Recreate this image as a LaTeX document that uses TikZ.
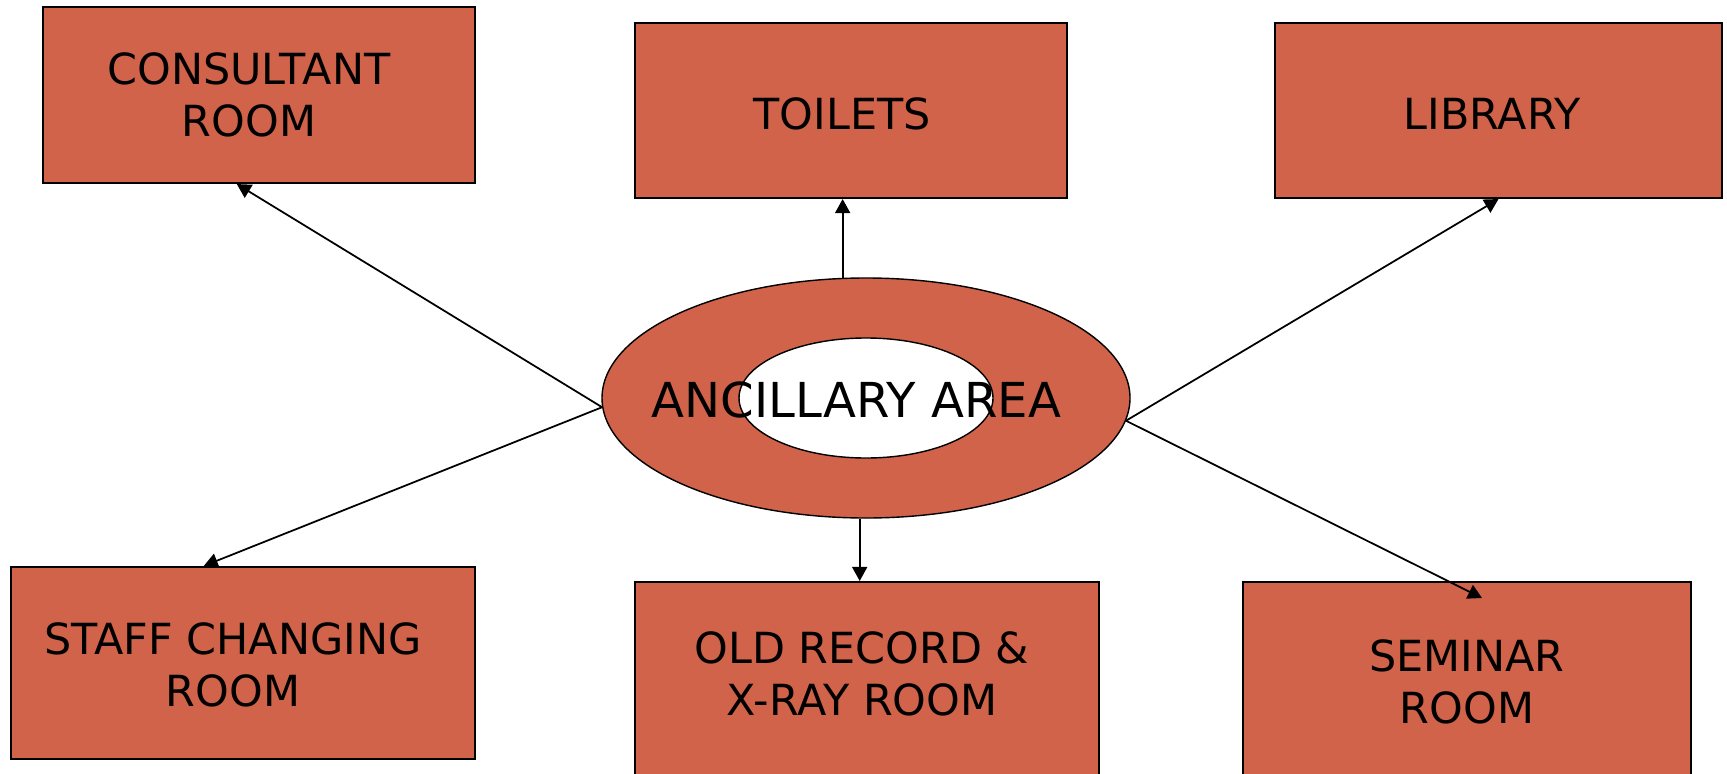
\documentclass[tikz,border=0pt]{standalone}
\usepackage{fontspec}
\setmainfont{DejaVu Sans}
\usepackage{tikz}
\definecolor{roombrown}{rgb}{0.816,0.388,0.290}
\usetikzlibrary{arrows.meta,shapes.geometric,calc}

\begin{document}
\begin{tikzpicture}[
    room/.style={draw=black,line width=0.6pt,fill=roombrown,inner sep=0pt},
    roomtext/.style={align=center,inner sep=0pt,font=\fontsize{12.2}{14.8}\selectfont},
    link/.style={line width=0.5pt,-{Triangle[length=1.4mm,width=1.5mm]}}]

           \path[use as bounding box,clip] (0,0) rectangle (17.27,7.73);

           % rooms round the ancillary area
           \node [room,minimum width=4.32cm,minimum height=1.76cm] (consult) at (2.59,6.78) {};
           \node [room,minimum width=4.32cm,minimum height=1.75cm] (toilets) at (8.51,6.625) {};
           \node [room,minimum width=4.47cm,minimum height=1.75cm] (library) at (14.985,6.625) {};
           \node [room,minimum width=4.64cm,minimum height=1.92cm] (staff) at (2.43,1.10) {};
           \node [room,minimum width=4.64cm,minimum height=1.96cm] (record) at (8.67,0.93) {};
           \node [room,minimum width=4.48cm,minimum height=2.00cm] (seminar) at (14.67,0.91) {};

           \node [roomtext] (consulttext) at ($(consult)+(-0.10,0)$) {CONSULTANT\\ROOM};
           \node [roomtext] (toiletstext) at ($(toilets)+(-0.09,-0.035)$) {TOILETS};
           \node [roomtext] (librarytext) at ($(library)+(-0.065,-0.035)$) {LIBRARY};
           \node [roomtext] (stafftext) at ($(staff)+(-0.10,-0.015)$) {STAFF CHANGING\\ROOM};
           \node [roomtext] (recordtext) at ($(record)+(-0.05,0.06)$) {OLD RECORD \&\\X-RAY ROOM};
           \node [roomtext] (seminartext) at (seminar) {SEMINAR\\ROOM};

           % the ring
           \node [ellipse,draw=black,line width=0.4pt,fill=roombrown,inner sep=0pt,
                  minimum width=5.28cm,minimum height=2.40cm] (area) at (8.66,3.75) {};
           \node [ellipse,draw=black,line width=0.4pt,fill=white,inner sep=0pt,
                  minimum width=2.54cm,minimum height=1.20cm] (hole) at (area) {};
           \node [font=\fontsize{13.7}{16}\selectfont] (areatext) at (8.565,3.73) {ANCILLARY AREA};

           \coordinate (semtip) at (14.82,1.75);

           \draw [link] (area.182) -- (consult.256);
           \draw [link] (area.101) -- (area.101 |- toilets.south);
           \draw [link] (area.-5) -- (library.south);
           \draw [link] (area.182) -- (staff.112);
           \draw [link] (area.267) -- (area.267 |- record.north);
           \draw [link] (area.-5) -- (semtip);

        \end{tikzpicture}
\end{document}
